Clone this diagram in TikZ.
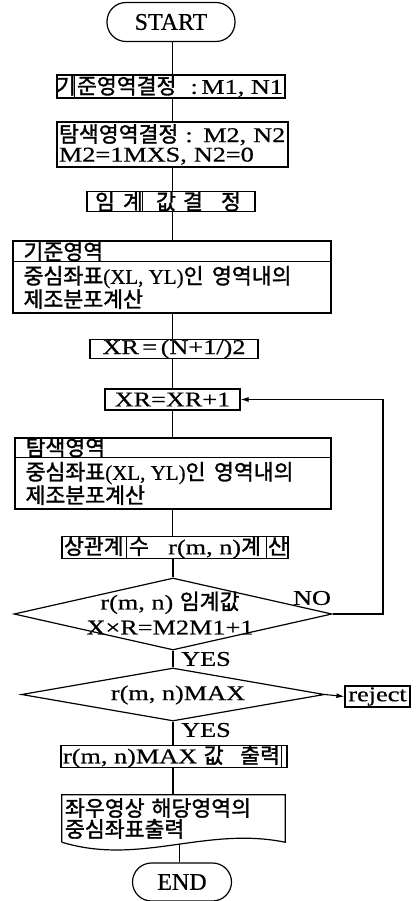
\documentclass[tikz,border=0pt]{standalone}
\usepackage{fontspec}
\setmainfont{Liberation Serif}[FakeStretch=1.25,FakeBold=0.5]
\newfontfamily\plainfont{Liberation Serif}[FakeBold=0.5]
\newfontfamily\krfont{Noto Sans CJK KR}[Scale=1.03,FakeBold=1.5]
\newcommand\hk[1]{{\krfont #1}}
\newcommand\zb[1]{\makebox[0pt]{#1}}
\usetikzlibrary{shapes.geometric,arrows.meta}
\begin{document}
\begin{tikzpicture}[x=1pt,y=-1pt,
  ln/.style={line width=1.1pt},
  box/.style={draw, line width=1.2pt, inner sep=0pt, font=\fontsize{21}{21}\selectfont},
  txt/.style={inner sep=0pt, font=\fontsize{21}{21}\selectfont},
  term/.style={draw, line width=1.2pt, rounded corners=19pt, inner sep=0pt, font=\plainfont\fontsize{24}{25}\selectfont},
  dia/.style={draw, diamond, line width=1.2pt, inner sep=0pt},
  sep/.style={line width=0.9pt},
  arr/.style={line width=1.1pt, -{Latex[length=8pt,width=5pt]}}]
\useasboundingbox (0,0) rectangle (417,901);
\fill[white] (0,0) rectangle (417,901);
\coordinate (ax) at (172.5,0);

\node[term, minimum width=128pt, minimum height=39pt] (start) at (171,22) {START};

\node[box, minimum width=228pt, minimum height=23pt] (b1) at (171,86.5)
  {\makebox[18pt]{\hk{기}}\makebox[210pt][l]{\hspace{2pt}\hk{준영역결정}\hfill:\,M1, N1\hspace{2pt}}};
\draw[sep] ([xshift=18pt]b1.north west) -- ([xshift=18pt]b1.south west);

\node[box, minimum width=231pt, minimum height=45pt, text width=227pt, inner xsep=2pt, align=left,
  font=\fontsize{21}{19.5}\selectfont] (b2) at (172.5,144.5) {\hk{탐색영역결정} : M2, N2\\M2=1MXS, N2=0};

\node[box, minimum width=168pt, minimum height=19pt] (b3) at (171,201.5)
  {\hspace*{18pt}\zb{\hk{임}}\hspace{28pt}\zb{\hk{계}}\hspace{33pt}\zb{\hk{값}}\hspace{27pt}\zb{\hk{결}}\hspace{38pt}\zb{\hk{정}}\hspace*{24pt}};
\draw[sep] ([xshift=56pt]b3.north west) -- ([xshift=56pt]b3.south west);

\node[box, minimum width=318pt, minimum height=72pt] (b4) at (172,277) {};
\draw[ln] ([yshift=-21pt]b4.north west) -- ([yshift=-21pt]b4.north east);
\node[txt, anchor=west] (b4a) at ([xshift=11pt,yshift=-11pt]b4.north west) {\hk{기준영역}};
\node[txt, anchor=west, align=left] (b4b) at ([xshift=11pt,yshift=-47pt]b4.north west)
  {\hk{중심좌표}{\plainfont(XL, YL)}\hk{인 \,영역내의}\\\hk{제조분포계산}};

\node[box, minimum width=168pt, minimum height=18pt] (b5) at (174,349) {XR\,=\,(N+1/)2};

\node[box, minimum width=135pt, minimum height=21pt] (b6) at (172.5,399.5) {XR=XR+1};

\node[box, minimum width=316pt, minimum height=71pt] (b7) at (173,473.5) {};
\draw[ln] ([yshift=-20pt]b7.north west) -- ([yshift=-20pt]b7.north east);
\node[txt, anchor=west] (b7a) at ([xshift=11pt,yshift=-10pt]b7.north west) {\hk{탐색영역}};
\node[txt, anchor=west, align=left] (b7b) at ([xshift=11pt,yshift=-46pt]b7.north west)
  {\hk{중심좌표}{\plainfont(XL, YL)}\hk{인 \,영역내의}\\\hk{제조분포계산}};

\node[box, minimum width=226pt, minimum height=19pt] (b8) at (175,547.5)
  {\makebox[65pt][l]{\hspace{2pt}\hk{상관계}}\makebox[140pt][l]{\hspace{2pt}\hk{수}\hfill r(m, n)\hk{계}\hspace{6pt}}\makebox[21pt][l]{\hspace{1pt}\hk{산}}};
\draw[sep] ([xshift=65pt]b8.north west) -- ([xshift=65pt]b8.south west);
\draw[sep] ([xshift=205pt]b8.north west) -- ([xshift=205pt]b8.south west);

\node[dia, minimum width=318pt, minimum height=72pt] (d1) at (173,614) {};
\node[txt, align=center, font=\fontsize{21}{25}\selectfont] (d1t) at (170,613) {r(m, n) \hk{임계값}\\X×R=M2M1+1};
\node[txt] (no) at (312,598) {NO};
\node[txt] (yes1) at (206,659) {YES};

\node[dia, minimum width=303pt, minimum height=53pt] (d2) at (173,694.5) {};
\node[txt] (d2t) at (178,695) {r(m, n)MAX};
\node[box, minimum width=65pt, minimum height=21pt] (rej) at (377.5,696.5) {reject};
\node[txt] (yes2) at (206,730) {YES};

\node[box, minimum width=226pt, minimum height=21pt] (b9) at (174,756.5)
  {\makebox[220pt][l]{\hspace{2pt}r(m, n)MAX \hk{값}\hfill\hk{출력}\hspace{1pt}}\hspace*{6pt}};
\draw[sep] ([xshift=-6pt]b9.north east) -- ([xshift=-6pt]b9.south east);

\node[inner sep=0pt, minimum width=223pt, minimum height=47pt, text width=217pt, inner xsep=3pt,
  align=left, font=\fontsize{21}{21}\selectfont] (doc) at (173.5,818.5)
  {\hk{좌우영상 해당영역의}\\\hk{중심좌표출력}};
\draw[line width=1.2pt] (doc.south west) -- (doc.north west) -- (doc.north east) -- (doc.south east)
  .. controls (205,826) and (140,866) .. coordinate[pos=0.47] (wv) (doc.south west);

\node[term, minimum width=99pt, minimum height=38pt] (end) at (182,882) {END};

% connectors
\draw[ln] (ax |- start.south) -- (ax |- b1.north);
\draw[ln] (ax |- b1.south) -- (ax |- b2.north);
\draw[ln] (ax |- b2.south) -- (ax |- b3.north);
\draw[ln] (ax |- b3.south) -- (ax |- b4.north);
\draw[ln] (ax |- b4.south) -- (ax |- b5.north);
\draw[ln] (ax |- b5.south) -- (ax |- b6.north);
\draw[ln] (ax |- b6.south) -- (ax |- b7.north);
\draw[ln] (ax |- b7.south) -- (ax |- b8.north);
\draw[ln] (d1.north |- b8.south) -- (d1.north);
\draw[ln] (d1.south) -- (d2.north);
\draw[ln] (d2.south) -- (d2.south |- b9.north);
\draw[ln] (d2.south |- b9.south) -- (d2.south |- doc.north);
\draw[ln] (wv) -- (wv |- end.north);
\draw[arr] (d1.east) -- (383,614) |- (b6.east);
\draw[arr] (d2.east) -- (rej.west);
\end{tikzpicture}
\end{document}
